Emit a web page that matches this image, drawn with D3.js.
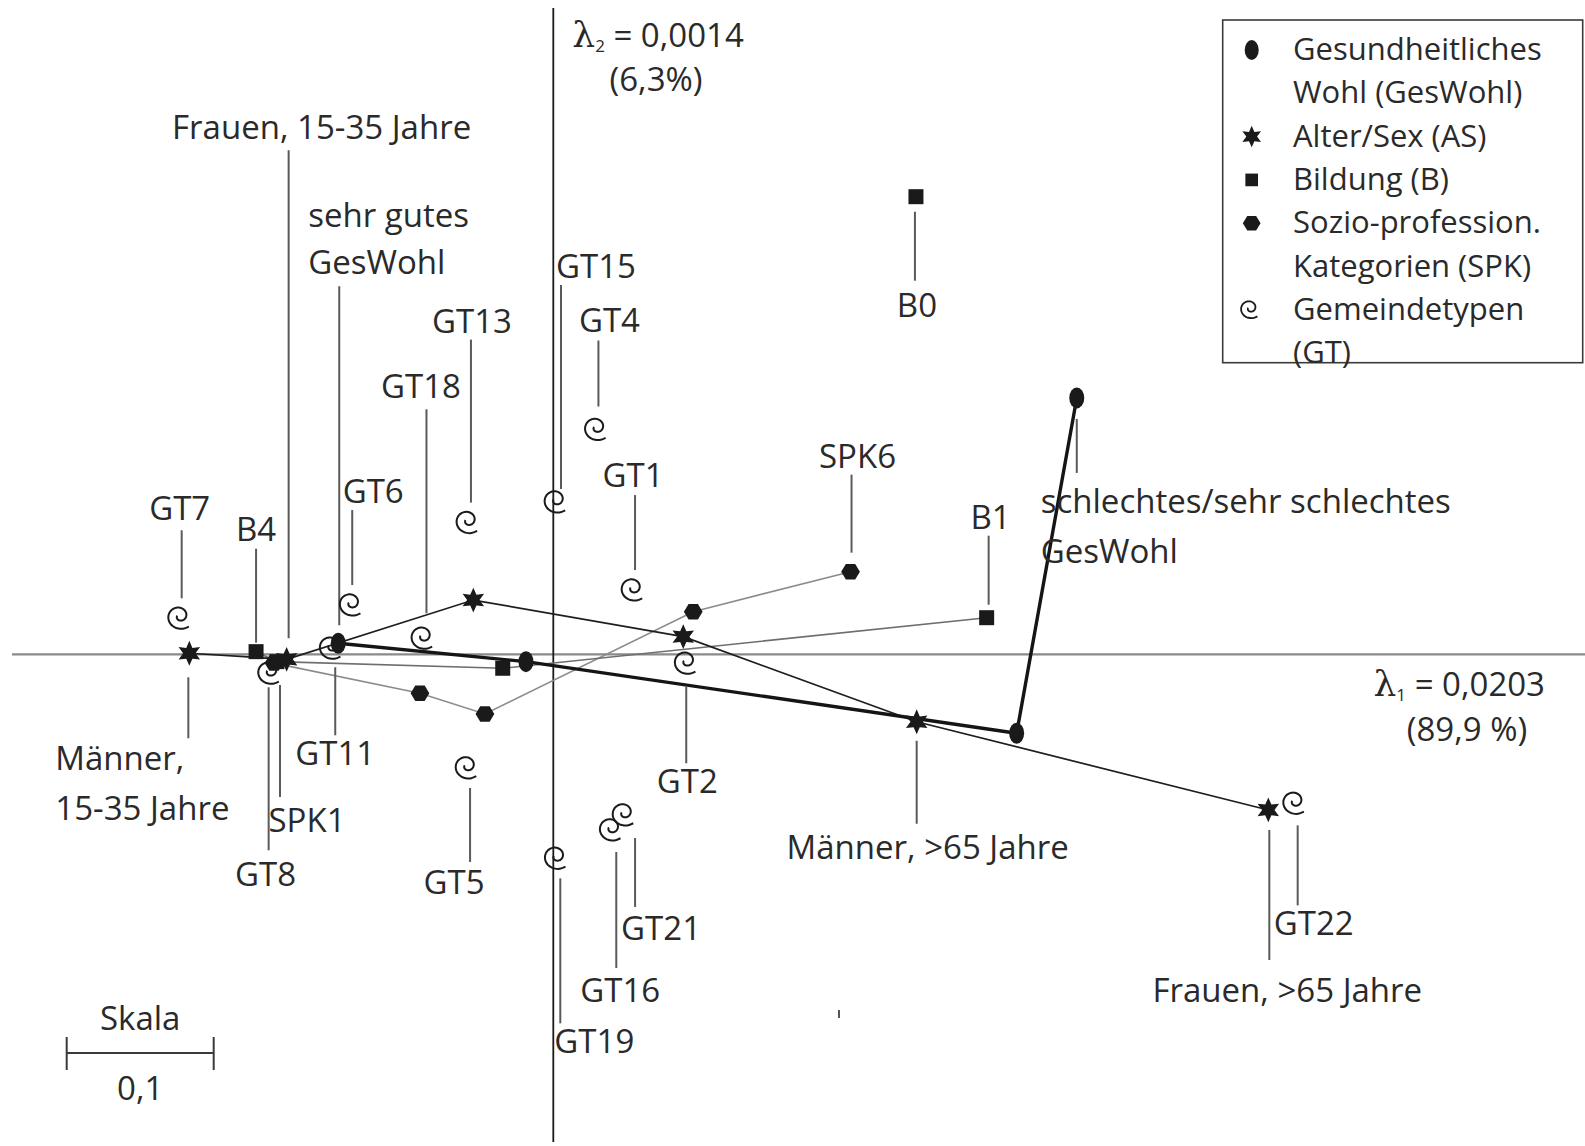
<!DOCTYPE html>
<html>
<head>
<meta charset="UTF-8">
<title>Korrespondenzanalyse GesWohl</title>
<script src="https://d3js.org/d3.v7.min.js"></script>
<style>
  body { margin: 0; background: #ffffff; }
  svg text { font-family: "Open Sans", "Noto Sans", sans-serif; fill: #2a2a2a; }
  .lbl { font-size: 33px; }
  .leg { font-size: 31px; }
  .leader { stroke: #5a5a5a; stroke-width: 2; }
</style>
</head>
<body>
<div id="chart"></div>
<script>
// --- data (coordinates on axis 1 / axis 2) ---
var gesNames = ["sehr gutes GesWohl", "gutes GesWohl", "mittleres GesWohl", "schlechtes/sehr schlechtes GesWohl"];
var gesX = [-0.1463, -0.0186, 0.3152, 0.3561];
var gesY = [0.0075, -0.0050, -0.0537, 0.1744];

var asNames = ["Männer, 15-35 Jahre", "Frauen, 15-35 Jahre", "Männer, 36-65 Jahre", "Frauen, 36-65 Jahre", "Männer, >65 Jahre", "Frauen, >65 Jahre"];
var asX = [-0.2476, -0.1814, -0.0544, 0.0884, 0.2472, 0.4864];
var asY = [0.0007, -0.0034, 0.0369, 0.0120, -0.0459, -0.1059];

var bNames = ["B4", "B3", "B2", "B1"];
var bX = [-0.2022, -0.1880, -0.0344, 0.2948];
var bY = [0.0018, -0.0050, -0.0095, 0.0249];
var b0 = {name: "B0", x: 0.2467, y: 0.3113};

var spkNames = ["SPK1", "SPK2", "SPK3", "SPK4", "SPK6"];
var spkX = [-0.1900, -0.0907, -0.0465, 0.0952, 0.2022];
var spkY = [-0.0060, -0.0265, -0.0406, 0.0290, 0.0562];

var gtNames = ["GT7", "GT8", "GT11", "GT6", "GT18", "GT13", "GT15", "GT4", "GT1", "GT2", "GT5", "GT19", "GT16", "GT21", "GT22"];
var gtX = [-0.2528, -0.1916, -0.1497, -0.1361, -0.0873, -0.0567, 0.0032, 0.0307, 0.0556, 0.0918, -0.0573, 0.0034, 0.0408, 0.0495, 0.5057];
var gtY = [0.0245, -0.0129, 0.0041, 0.0335, 0.0109, 0.0896, 0.1036, 0.1529, 0.0437, -0.0061, -0.0773, -0.1388, -0.1195, -0.1093, -0.1014];

var lambda1 = ["0,0203", "(89,9 %)"];
var lambda2 = ["0,0014", "(6,3%)"];
var scaleLen = 0.1;
var legendItems = [
  {sym: "ellipse", lines: ["Gesundheitliches", "Wohl (GesWohl)"]},
  {sym: "star", lines: ["Alter/Sex (AS)"]},
  {sym: "square", lines: ["Bildung (B)"]},
  {sym: "hex", lines: ["Sozio-profession.", "Kategorien (SPK)"]},
  {sym: "spiral", lines: ["Gemeindetypen", "(GT)"]}
];

// label placement: text offset (dx, dy) from point, leader offset lx, ly1, ly2
var labelCfg = {
  "GT7": {dx: -2, dy: [-98], lx: 0, ly: [-88, -20]},
  "B4": {dx: 0, dy: [-111], lx: 0, ly: [-103, -9]},
  "Frauen, 15-35 Jahre": {dx: 35, dy: [-520], lx: 2, ly: [-509, -21]},
  "sehr gutes GesWohl": {dx: -30, anchor: "start", text: ["sehr gutes", "GesWohl"], dy: [-416, -369], lx: 1, ly: [-357, -18]},
  "GT6": {dx: 20, dy: [-102], lx: -1, ly: [-95, -20]},
  "GT18": {dx: -4, dy: [-240], lx: 1.5, ly: [-229, -25]},
  "GT13": {dx: 2, dy: [-190], lx: 1, ly: [-183, -20]},
  "GT15": {dx: 38, dy: [-224], lx: 3, ly: [-217, -13]},
  "GT4": {dx: 11, dy: [-98], lx: 0, ly: [-89, -23]},
  "GT1": {dx: -2, dy: [-103], lx: 0, ly: [-95, -20]},
  "SPK6": {dx: 7, dy: [-104], lx: 1, ly: [-97, -19]},
  "B1": {dx: 4, dy: [-89], lx: 2, ly: [-82, -13]},
  "B0": {dx: 1, dy: [120], lx: -1, ly: [15, 84]},
  "schlechtes/sehr schlechtes GesWohl": {dx: -36, anchor: "start", text: ["schlechtes/sehr schlechtes", "GesWohl"], dy: [115, 165], lx: 0, ly: [21, 75]},
  "Männer, 15-35 Jahre": {dx: -134, anchor: "start", text: ["Männer,", "15-35 Jahre"], dy: [117, 167], lx: -1, ly: [24, 85]},
  "GT11": {dx: 2, dy: [117], lx: 2, ly: [19, 87]},
  "SPK1": {dx: 33, dy: [169], lx: 6, ly: [22, 134]},
  "GT8": {dx: -6, dy: [213], lx: -3, ly: [14, 177]},
  "GT2": {dx: -1, dy: [130], lx: -2, ly: [23, 100]},
  "GT5": {dx: -15, dy: [126], lx: 1, ly: [20, 94]},
  "Männer, >65 Jahre": {dx: 11, dy: [137], lx: 0, ly: [19, 102]},
  "GT21": {dx: 35, dy: [125], lx: 9, ly: [23, 92]},
  "GT16": {dx: 7, dy: [172], lx: 3, ly: [22, 138]},
  "GT19": {dx: 36, dy: [195], lx: 2, ly: [20, 165]},
  "GT22": {dx: 17, dy: [132], lx: 1, ly: [22, 102]},
  "Frauen, >65 Jahre": {dx: 19, dy: [192], lx: 1, ly: [20, 150]}
};

var W = 1585, H = 1146;
var x = d3.scaleLinear().domain([-0.3, 0.7]).range([112.3, 1582.3]);
var y = d3.scaleLinear().domain([-0.35, 0.45]).range([1168.8, -7.2]);

function zip(names, xs, ys, group) {
  return names.map(function(n, i) { return {name: n, x: xs[i], y: ys[i], group: group}; });
}
var ges = zip(gesNames, gesX, gesY, "ges");
var as = zip(asNames, asX, asY, "as");
var bil = zip(bNames, bX, bY, "b");
var spk = zip(spkNames, spkX, spkY, "spk");
var gt = zip(gtNames, gtX, gtY, "gt");
b0.group = "b";
var all = [].concat(ges, as, bil, [b0], spk, gt);

// --- custom symbol shapes ---
var star6 = {
  draw: function(ctx, size) {
    var R = Math.sqrt(size) * 0.62, r = R * 0.5;
    for (var i = 0; i < 12; i++) {
      var a = -Math.PI / 2 + i * Math.PI / 6;
      var rr = i % 2 === 0 ? R : r;
      if (i === 0) ctx.moveTo(rr * Math.cos(a), rr * Math.sin(a));
      else ctx.lineTo(rr * Math.cos(a), rr * Math.sin(a));
    }
    ctx.closePath();
  }
};
var hexagon = {
  draw: function(ctx, size) {
    var R = Math.sqrt(size) * 0.55;
    for (var i = 0; i < 6; i++) {
      var a = i * Math.PI / 3;
      if (i === 0) ctx.moveTo(R * Math.cos(a), R * 0.95 * Math.sin(a));
      else ctx.lineTo(R * Math.cos(a), R * 0.95 * Math.sin(a));
    }
    ctx.closePath();
  }
};
// curled "e"-like spiral used for Gemeindetypen
function spiralPath(s) {
  var pts = [], T = 2.5 * Math.PI, a0 = 0.55 * Math.PI + T;
  for (var t = 0; t <= T + 0.001; t += 0.08) {
    var r = (1.5 + 7.5 * t / T) * s;
    var a = a0 - t;
    pts.push([r * Math.cos(a) - 1.5 * s, r * 0.95 * Math.sin(a) - 1.5 * s]);
  }
  var last = pts[pts.length - 1];
  pts.push([last[0] + 4 * s, last[1] + 0.3 * s]);
  pts.push([last[0] + 8 * s, last[1] - 1.2 * s]);
  return d3.line().curve(d3.curveCatmullRom)(pts);
}

var svg = d3.select("#chart").append("svg")
  .attr("width", W).attr("height", H)
  .attr("viewBox", "0 0 " + W + " " + H);

// axes
svg.append("line")
  .attr("x1", 12).attr("x2", W).attr("y1", y(0)).attr("y2", y(0))
  .attr("stroke", "#8a8a8a").attr("stroke-width", 2.2);
svg.append("line")
  .attr("x1", x(0)).attr("x2", x(0)).attr("y1", 8).attr("y2", 1142)
  .attr("stroke", "#1a1a1a").attr("stroke-width", 1.8);

// eigenvalue annotations
var serif = "'DejaVu Serif', 'Liberation Serif', serif";
var l2 = svg.append("text").attr("class", "lbl").attr("x", x(0) + 19).attr("y", 47);
l2.append("tspan").style("font-family", serif).style("font-size", "36px").text("λ");
l2.append("tspan").attr("font-size", 17).attr("dy", 5).text("2");
l2.append("tspan").attr("dy", -5).text(" = " + lambda2[0]);
svg.append("text").attr("class", "lbl").attr("x", 656).attr("y", 91).attr("text-anchor", "middle").text(lambda2[1]);

var l1 = svg.append("text").attr("class", "lbl").attr("x", 1545).attr("y", 696).attr("text-anchor", "end");
l1.append("tspan").style("font-family", serif).style("font-size", "36px").text("λ");
l1.append("tspan").attr("font-size", 17).attr("dy", 5).text("1");
l1.append("tspan").attr("dy", -5).text(" = " + lambda1[0]);
svg.append("text").attr("class", "lbl").attr("x", 1467).attr("y", 741).attr("text-anchor", "middle").text(lambda1[1]);

// connecting lines
var line = d3.line().x(function(d) { return x(d.x); }).y(function(d) { return y(d.y); });
svg.append("path").datum(spk).attr("d", line).attr("fill", "none").attr("stroke", "#8c8c8c").attr("stroke-width", 1.6);
svg.append("path").datum(bil).attr("d", line).attr("fill", "none").attr("stroke", "#6e6e6e").attr("stroke-width", 1.6);
svg.append("path").datum(as).attr("d", line).attr("fill", "none").attr("stroke", "#1e1e1e").attr("stroke-width", 1.7);
svg.append("path").datum(ges).attr("d", line).attr("fill", "none").attr("stroke", "#151515").attr("stroke-width", 3.4);

// leaders and labels
var labelled = all.filter(function(d) { return labelCfg[d.name]; });
var lg = svg.append("g");
labelled.forEach(function(d) {
  var c = labelCfg[d.name];
  var px = x(d.x), py = y(d.y);
  lg.append("line").attr("class", "leader")
    .attr("x1", px + c.lx).attr("x2", px + c.lx)
    .attr("y1", py + c.ly[0]).attr("y2", py + c.ly[1]);
  var lines = c.text || [d.name];
  lines.forEach(function(t, i) {
    lg.append("text").attr("class", "lbl")
      .attr("x", px + c.dx).attr("y", py + c.dy[i])
      .attr("text-anchor", c.anchor || "middle")
      .text(t);
  });
});

// markers
var mk = svg.append("g").attr("fill", "#1a1a1a");
mk.selectAll("path.sp").data(gt).join("path").attr("class", "sp")
  .attr("transform", function(d) { return "translate(" + x(d.x) + "," + y(d.y) + ")"; })
  .attr("d", spiralPath(1.45))
  .attr("fill", "none").attr("stroke", "#1a1a1a").attr("stroke-width", 2);
mk.selectAll("ellipse").data(ges).join("ellipse")
  .attr("cx", function(d) { return x(d.x); }).attr("cy", function(d) { return y(d.y); })
  .attr("rx", 7.5).attr("ry", 10.5);
mk.selectAll("path.star").data(as).join("path").attr("class", "star")
  .attr("transform", function(d) { return "translate(" + x(d.x) + "," + y(d.y) + ")"; })
  .attr("d", d3.symbol().type(star6).size(400));
mk.selectAll("path.sq").data(bil.concat([b0])).join("path").attr("class", "sq")
  .attr("transform", function(d) { return "translate(" + x(d.x) + "," + y(d.y) + ")"; })
  .attr("d", d3.symbol().type(d3.symbolSquare).size(225));
mk.selectAll("path.hex").data(spk).join("path").attr("class", "hex")
  .attr("transform", function(d) { return "translate(" + x(d.x) + "," + y(d.y) + ")"; })
  .attr("d", d3.symbol().type(hexagon).size(290));

// legend
var leg = svg.append("g");
leg.append("rect").attr("x", 1222.7).attr("y", 20).attr("width", 360).attr("height", 342.7)
  .attr("fill", "#fff").attr("stroke", "#3a3a3a").attr("stroke-width", 1.6);
var row = 0, lh = 43.3, sx = 1251.7;
legendItems.forEach(function(it) {
  var by = 60 + row * lh, cy = by - 10;
  var g = leg.append("g").attr("transform", "translate(" + sx + "," + cy + ")").attr("fill", "#1a1a1a");
  if (it.sym === "ellipse") g.append("ellipse").attr("rx", 7).attr("ry", 10);
  else if (it.sym === "star") g.append("path").attr("d", d3.symbol().type(star6).size(300));
  else if (it.sym === "square") g.append("path").attr("d", d3.symbol().type(d3.symbolSquare).size(160));
  else if (it.sym === "hex") g.append("path").attr("d", d3.symbol().type(hexagon).size(260));
  else g.append("path").attr("d", spiralPath(1.15)).attr("fill", "none").attr("stroke", "#1a1a1a").attr("stroke-width", 1.8);
  it.lines.forEach(function(t, i) {
    leg.append("text").attr("class", "leg").attr("x", 1293).attr("y", by + i * lh).text(t);
  });
  row += it.lines.length;
});

// scale bar
var sb0 = 66.7, sb1 = sb0 + (x(scaleLen) - x(0)), sby = 1053;
var sb = svg.append("g").attr("stroke", "#3a3a3a").attr("stroke-width", 2);
sb.append("line").attr("x1", sb0).attr("x2", sb1).attr("y1", sby).attr("y2", sby);
sb.append("line").attr("x1", sb0).attr("x2", sb0).attr("y1", sby - 16).attr("y2", sby + 17);
sb.append("line").attr("x1", sb1).attr("x2", sb1).attr("y1", sby - 16).attr("y2", sby + 17);
svg.append("text").attr("class", "lbl").attr("x", (sb0 + sb1) / 2).attr("y", 1030).attr("text-anchor", "middle").text("Skala");
svg.append("text").attr("class", "lbl").attr("x", (sb0 + sb1) / 2).attr("y", 1100).attr("text-anchor", "middle").text(String(scaleLen).replace(".", ","));
// small stray tick present in the original
svg.append("line").attr("x1", 839).attr("x2", 839).attr("y1", 1010).attr("y2", 1018).attr("stroke", "#555").attr("stroke-width", 2);
</script>
</body>
</html>
